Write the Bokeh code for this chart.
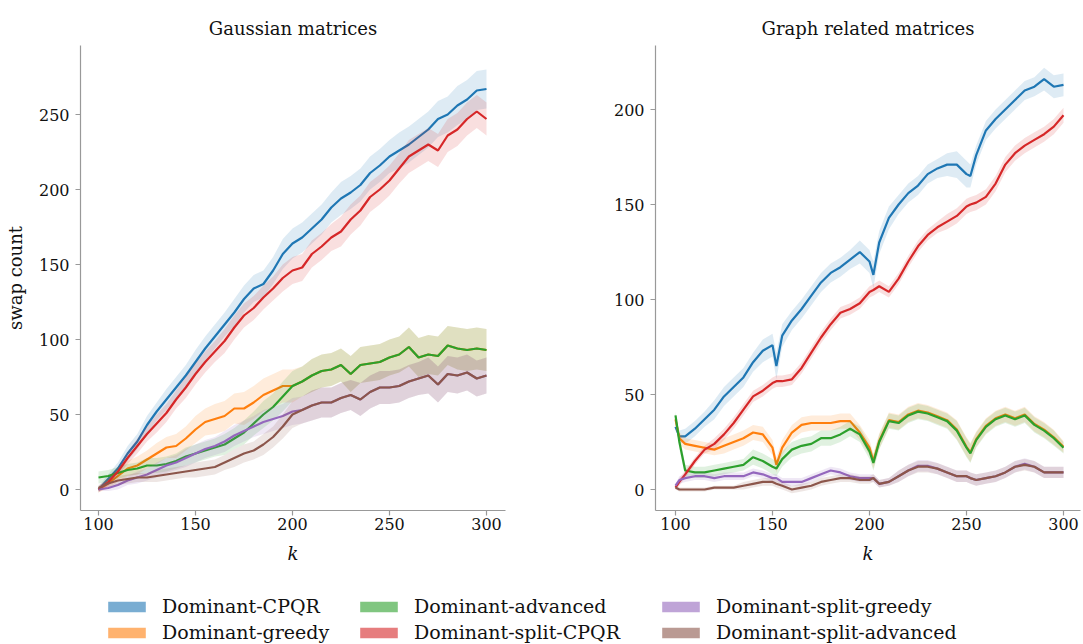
import numpy as np
from bokeh.plotting import figure
from bokeh.layouts import column, row
from bokeh.models import ColumnDataSource, Legend, LegendItem, Range1d, FixedTicker
from bokeh.embed import file_html
from bokeh.resources import INLINE

FONT = "DejaVu Serif"
NAMES = ["Dominant-CPQR", "Dominant-greedy", "Dominant-advanced",
         "Dominant-split-CPQR", "Dominant-split-greedy", "Dominant-split-advanced"]
COLORS = ["#1f77b4", "#ff7f0e", "#2ca02c", "#d62728", "#9467bd", "#8c564b"]

# ---------------- Gaussian matrices ----------------
k_gauss = [100, 105, 110, 115, 120, 125, 130, 135, 140, 145, 150, 155, 160, 165, 170,
           175, 180, 185, 190, 195, 200, 205, 210, 215, 220, 225, 230, 235, 240, 245,
           250, 255, 260, 265, 270, 275, 280, 285, 290, 295, 300]

cpqr_g = [0, 7, 14, 24, 32, 43, 52, 60, 68, 76, 85, 94, 102, 110, 118, 127, 134, 137, 146, 157,
          164, 168, 174, 180, 188, 194, 198, 203, 211, 216, 222, 226, 230, 235, 240, 247, 250,
          256, 260, 266, 267]
greedy_g = [0, 4, 9, 14, 16, 20, 24, 28, 29, 34, 40, 45, 47, 49, 54, 54, 58, 63, 66, 69, 69,
            72, 76, 79, 80, 83, 77, 83, 84, 85, 88, 90, 95, 88, 90, 89, 96, 94, 93, 94, 93]
advanced_g = [8, 9, 11, 13, 14, 16, 16, 17, 19, 22, 24, 26, 28, 30, 34, 38, 44, 50, 55, 62, 69,
              72, 76, 79, 80, 83, 77, 83, 84, 85, 88, 90, 95, 88, 90, 89, 96, 94, 93, 94, 93]
split_cpqr_g = [0, 5, 12, 21, 29, 37, 44, 51, 60, 68, 77, 85, 92, 99, 108, 116, 121, 128, 134,
                141, 146, 148, 157, 162, 168, 172, 180, 186, 195, 200, 206, 214, 222, 226, 230,
                226, 236, 240, 247, 252, 247]
split_greedy_g = [0, 1, 3, 6, 8, 10, 13, 16, 18, 21, 24, 27, 29, 32, 36, 39, 42, 45, 47, 49, 52,
                  53, 56, 58, 58, 61, 63, 60, 65, 68, 68, 69, 72, 74, 76, 70, 77, 76, 78, 74, 76]
split_advanced_g = [1, 4, 6, 7, 8, 8, 9, 10, 11, 12, 13, 14, 15, 18, 21, 24, 26, 30, 35, 42, 50,
                    53, 56, 58, 58, 61, 63, 60, 65, 68, 68, 69, 72, 74, 76, 70, 77, 76, 78, 74, 76]

# half-widths of the shaded bands
cpqr_g_sd = [2, 3, 4, 5, 5, 6, 6, 7, 7, 7, 8, 8, 8, 8, 9, 9, 9, 9, 9, 10, 10, 10, 10, 10, 10,
             11, 11, 11, 11, 11, 11, 12, 12, 12, 12, 12, 12, 13, 13, 13, 13]
greedy_g_sd = [2, 3, 4, 5, 6, 6, 7, 7, 8, 8, 9, 9, 10, 10, 10, 11, 11, 11, 11, 11, 11,
               10, 11, 11, 11, 11, 12, 12, 12, 12, 12, 12, 13, 13, 13, 13, 13, 14, 14, 14, 14]
advanced_g_sd = [4, 4, 4, 4, 4, 5, 5, 5, 5, 6, 6, 6, 6, 7, 7, 8, 8, 9, 9, 10, 10,
                 10, 11, 11, 11, 11, 12, 12, 12, 12, 12, 12, 13, 13, 13, 13, 13, 14, 14, 14, 14]
split_cpqr_g_sd = [2, 3, 3, 4, 5, 5, 6, 6, 6, 7, 7, 7, 7, 8, 8, 8, 8, 8, 8, 9, 9, 9, 9, 9, 9,
                   10, 10, 10, 10, 10, 10, 10, 11, 11, 11, 11, 11, 11, 11, 11, 11]
split_greedy_g_sd = [1, 2, 3, 3, 4, 4, 5, 5, 5, 6, 6, 6, 6, 7, 7, 7, 7, 8, 8, 8, 9,
                     9, 10, 10, 10, 10, 10, 11, 11, 11, 11, 11, 11, 11, 12, 12, 12, 12, 12, 12, 12]
split_advanced_g_sd = [2, 2, 3, 3, 3, 3, 4, 4, 4, 4, 5, 5, 5, 5, 6, 6, 6, 7, 7, 8, 9,
                       9, 10, 10, 10, 10, 10, 11, 11, 11, 11, 11, 11, 11, 12, 12, 12, 12, 12, 12, 12]

# ---------------- Graph related matrices ----------------
k_graph = [100, 102, 105, 110, 115, 120, 125, 130, 135, 140, 145, 150, 152, 155, 160, 165, 170,
           175, 180, 185, 190, 195, 200, 202, 205, 210, 215, 220, 225, 230, 235, 240, 245, 250,
           252, 255, 260, 265, 270, 275, 280, 285, 290, 295, 300]

cpqr_r = [33, 28, 28, 32, 37, 42, 49, 54, 59, 67, 73, 76, 65, 81, 89, 95, 102, 109, 114, 117,
          121, 125, 120, 113, 130, 143, 150, 156, 160, 166, 169, 171, 171, 166, 165, 176, 189,
          195, 200, 205, 210, 212, 216, 212, 213]
greedy_r = [37, 27, 24, 23, 22, 21, 23, 25, 27, 30, 29, 22, 13, 22, 30, 34, 35, 35, 35, 36, 36,
            30, 22, 15, 25.5, 36.5, 35.5, 39.5, 41.5, 40.5, 38.5, 36.5, 31.5, 22.5, 19.5, 26.5,
            33.5, 37.5, 39.5, 37.5, 39.5, 34.5, 31.5, 27.5, 22.5]
advanced_r = [39, 25, 10, 9, 9, 10, 11, 12, 13, 17, 15, 12, 11, 16, 21, 23, 24, 27, 27, 29, 32,
              29, 20, 14, 25, 36, 35, 39, 41, 40, 38, 36, 31, 22, 19, 26, 33, 37, 39, 37, 39,
              34, 31, 27, 22]
split_cpqr_r = [1, 4, 8, 15, 21, 24, 29, 35, 42, 49, 52, 56, 57, 57, 58, 64, 72, 80, 87, 93, 95,
                98, 104, 105, 107, 104, 111, 120, 128, 134, 138, 141, 144, 149, 150, 151, 154,
                161, 171, 177, 181, 184, 187, 191, 197]
split_greedy_r = [2, 5, 6, 7, 7, 6, 7, 7, 7, 9, 8, 6, 6, 4, 4, 4, 6, 8, 10, 9, 7, 6, 6, 6,
                  3, 4, 7, 10, 12.5, 12.5, 11, 9, 7, 7, 6, 5, 6, 7, 9, 12, 13.5, 12, 9, 9, 9]
split_advanced_r = [1, 0, 0, 0, 0, 1, 1, 1, 2, 3, 4, 4, 3, 2, 0, 1, 2, 4, 5, 6, 6, 5, 5, 6,
                    3, 4, 7, 10, 12, 12, 11, 9, 7, 7, 6, 5, 6, 7, 9, 12, 13, 12, 9, 9, 9]

cpqr_r_sd = [2, 3, 4, 4, 4, 5, 5, 5, 5, 5, 6, 6, 7, 6, 5, 5, 5, 5, 5, 5, 5, 6, 6, 7, 6, 6, 5,
             5, 5, 5, 5, 6, 7, 7, 6, 5, 5, 5, 5, 5, 5, 5, 6, 6, 6]
greedy_r_sd = [2, 3, 3, 3, 3, 3, 4, 4, 4, 4, 4, 4, 4, 4, 4, 4, 4, 4, 4, 4, 4, 4, 4, 4,
               4, 4, 4, 4, 4, 4, 4, 4, 5, 5, 5, 4, 4, 4, 4, 4, 4, 4, 4, 4, 3]
advanced_r_sd = [2, 4, 3, 3, 3, 3, 3, 3, 3, 4, 4, 4, 4, 4, 4, 4, 4, 4, 4, 4, 4, 4, 4, 4,
                 4, 4, 4, 4, 4, 4, 4, 4, 5, 5, 5, 4, 4, 4, 4, 4, 4, 4, 4, 4, 3]
split_cpqr_r_sd = [1, 2, 2, 2, 2, 3, 3, 3, 3, 3, 3, 3, 3, 3, 3, 3, 3, 3, 3, 3, 3, 3, 3, 3, 3,
                   3, 3, 3, 3, 3, 3, 4, 4, 4, 4, 4, 4, 4, 4, 4, 4, 4, 4, 4, 4]
split_greedy_r_sd = [1, 2, 2, 2, 2, 2, 2, 2, 2, 2, 2, 2, 2, 2, 2, 2, 2, 2, 2, 2, 2, 2, 2, 2,
                     2, 2, 3, 3, 3, 3, 3, 3, 3, 3, 3, 3, 3, 3, 3, 3, 3, 3, 3, 3, 3]
split_advanced_r_sd = [1, 1, 1, 1, 1, 1, 1, 1, 2, 2, 2, 2, 2, 2, 2, 2, 2, 2, 2, 2, 2, 2, 2, 2,
                       2, 2, 3, 3, 3, 3, 3, 3, 3, 3, 3, 3, 3, 3, 3, 3, 3, 3, 3, 3, 3]

gauss_means = [cpqr_g, greedy_g, advanced_g, split_cpqr_g, split_greedy_g, split_advanced_g]
gauss_sds = [cpqr_g_sd, greedy_g_sd, advanced_g_sd, split_cpqr_g_sd, split_greedy_g_sd,
             split_advanced_g_sd]
graph_means = [cpqr_r, greedy_r, advanced_r, split_cpqr_r, split_greedy_r, split_advanced_r]
graph_sds = [cpqr_r_sd, greedy_r_sd, advanced_r_sd, split_cpqr_r_sd, split_greedy_r_sd,
             split_advanced_r_sd]

x_ticks = [100, 150, 200, 250, 300]
gauss_yticks = [0, 50, 100, 150, 200, 250]
graph_yticks = [0, 50, 100, 150, 200]

AX_COLOR = "#999999"


def style_axes(p):
    p.outline_line_color = None
    p.grid.visible = False
    for ax in (p.xaxis, p.yaxis):
        ax.axis_line_color = AX_COLOR
        ax.axis_line_width = 1.2
        ax.major_tick_line_color = AX_COLOR
        ax.major_tick_line_width = 1.2
        ax.major_tick_out = 5
        ax.major_tick_in = 0
        ax.minor_tick_line_color = None
        ax.major_label_text_font = FONT
        ax.major_label_text_font_size = "16px"
        ax.major_label_text_color = "#111111"
        ax.axis_label_text_font = FONT
        ax.axis_label_text_font_size = "18px"
        ax.axis_label_text_color = "#111111"
    p.yaxis.major_label_standoff = 6
    p.xaxis.major_label_standoff = 2
    p.title.text_font = FONT
    p.title.text_font_size = "18px"
    p.title.text_font_style = "normal"
    p.title.text_color = "#111111"
    p.title.align = "center"
    p.title.standoff = 13


def make_panel(title, k, means, sds, xr, yr, yticks, width, left, right, ylabel):
    p = figure(width=width, height=575, output_backend="svg",
               toolbar_location=None, title=title,
               x_range=Range1d(*xr), y_range=Range1d(*yr),
               min_border_left=left, min_border_right=right,
               min_border_top=45, min_border_bottom=65)
    style_axes(p)
    p.xaxis.ticker = FixedTicker(ticks=x_ticks)
    p.yaxis.ticker = FixedTicker(ticks=yticks)
    p.xaxis.axis_label = "k"
    p.xaxis.axis_label_text_font_style = "italic"
    p.xaxis.axis_label_standoff = 10
    if ylabel:
        p.yaxis.axis_label = ylabel
        p.yaxis.axis_label_text_font_style = "normal"
        p.yaxis.axis_label_standoff = 10
    kk = np.array(k, dtype=float)
    for m, s, c in zip(means, sds, COLORS):
        m = np.array(m, dtype=float)
        s = np.array(s, dtype=float)
        src = ColumnDataSource(dict(k=kk, m=m, lo=m - s, hi=m + s))
        p.varea(x="k", y1="lo", y2="hi", source=src, fill_color=c, fill_alpha=0.15)
        p.line(x="k", y="m", source=src, line_color=c, line_width=2.2)
    return p


p1 = make_panel("Gaussian matrices", k_gauss, gauss_means, gauss_sds,
                (90.72, 309.8), (-14, 296), gauss_yticks, 583, 80, 78, "swap count")
p2 = make_panel("Graph related matrices", k_graph, graph_means, graph_sds,
                (89.69, 308.76), (-11.05, 233.7), graph_yticks, 499, 72, 2, None)

# ---------------- legend strip ----------------
pl = figure(width=1082, height=68, output_backend="svg", toolbar_location=None,
            x_range=Range1d(0, 1), y_range=Range1d(0, 1),
            x_axis_location=None, y_axis_location=None,
            min_border_left=0, min_border_right=0, min_border_top=0, min_border_bottom=0)
pl.outline_line_color = None
pl.grid.visible = False

NAN = float("nan")
dummies = []
for c in COLORS:
    r = pl.quad(left=[NAN], right=[NAN], top=[NAN], bottom=[NAN], fill_color=c,
                fill_alpha=0.6, line_color=None)
    dummies.append(r)

columns_idx = [(0, 1), (2, 3), (4, 5)]
col_x = [103, 355, 657]
for (a, b), x in zip(columns_idx, col_x):
    items = [LegendItem(label=NAMES[a], renderers=[dummies[a]]),
             LegendItem(label=NAMES[b], renderers=[dummies[b]])]
    lg = Legend(items=items, location=(x, 0), orientation="vertical",
                glyph_width=47, glyph_height=13, label_standoff=12,
                label_height=22, spacing=4, padding=0, margin=0,
                border_line_color=None, background_fill_alpha=0,
                label_text_font=FONT, label_text_font_size="19px",
                label_text_color="#111111")
    pl.add_layout(lg)

layout = column(row(p1, p2), pl)
open("out.html", "w").write(file_html(layout, INLINE))
